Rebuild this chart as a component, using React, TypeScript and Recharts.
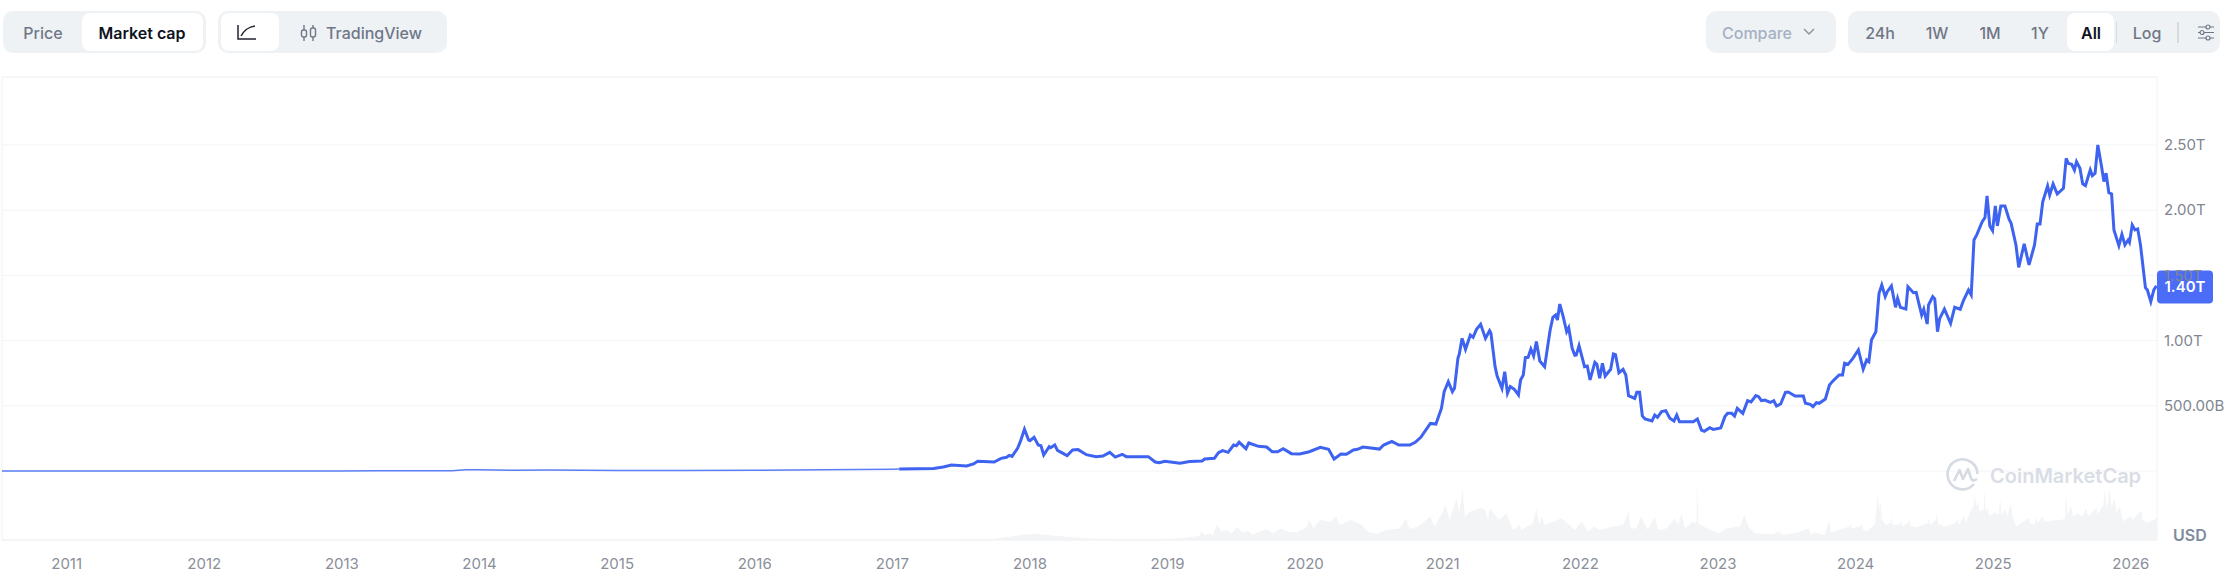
import { Area, CartesianGrid, ComposedChart, Line, ReferenceArea, ReferenceDot, XAxis, YAxis } from 'recharts';

// [decimal year, market cap in billions USD]
const marketCap: [number, number][] = [
    [2010.53, 0.1], [2011, 0.2], [2012, 0.3], [2013, 0.5], [2013.25, 1.5], [2013.8, 2.5], [2013.9, 10], [2014, 9], [2014.25, 6], [2014.5, 8], [2015, 4], [2015.5, 3.5], [2016, 6], [2016.5, 10], [2017, 14],
    [2017.05, 15], [2017.18, 18], [2017.3, 20], [2017.37, 31], [2017.43, 46], [2017.54, 38], [2017.59, 54], [2017.62, 74], [2017.74, 69], [2017.79, 97], [2017.83, 105], [2017.85, 120], [2017.87, 112],
    [2017.91, 174], [2017.93, 225], [2017.96, 320], [2017.99, 238], [2018, 232], [2018.03, 258], [2018.06, 200], [2018.08, 194], [2018.1, 123], [2018.14, 187], [2018.15, 179], [2018.18, 200], [2018.2, 158],
    [2018.27, 118], [2018.31, 161], [2018.35, 164], [2018.41, 125], [2018.48, 110], [2018.53, 115], [2018.58, 143], [2018.62, 107], [2018.67, 128], [2018.7, 110], [2018.86, 110], [2018.91, 69], [2018.94, 64],
    [2018.98, 74], [2019.09, 59], [2019.16, 72], [2019.25, 77], [2019.27, 92], [2019.34, 97], [2019.37, 141], [2019.4, 156], [2019.44, 143], [2019.48, 199], [2019.5, 194], [2019.52, 220], [2019.57, 171],
    [2019.59, 215], [2019.66, 189], [2019.72, 184], [2019.76, 148], [2019.8, 148], [2019.84, 171], [2019.9, 133], [2019.96, 130], [2020.03, 148], [2020.11, 181], [2020.17, 166], [2020.21, 92], [2020.26, 130],
    [2020.3, 128], [2020.35, 161], [2020.38, 166], [2020.42, 184], [2020.54, 168], [2020.57, 199], [2020.63, 227], [2020.68, 199], [2020.76, 199], [2020.8, 220], [2020.84, 258], [2020.91, 365], [2020.95, 360],
    [2020.99, 480], [2021.01, 608], [2021.04, 685], [2021.07, 608], [2021.085, 634], [2021.11, 864], [2021.12, 897], [2021.14, 1017], [2021.165, 933], [2021.2, 1043], [2021.22, 1025], [2021.245, 1086],
    [2021.275, 1125], [2021.31, 1017], [2021.34, 1076], [2021.35, 1056], [2021.38, 800], [2021.395, 728], [2021.43, 634], [2021.45, 762], [2021.47, 596], [2021.49, 647], [2021.52, 626], [2021.55, 583],
    [2021.565, 698], [2021.585, 736], [2021.6, 869], [2021.62, 872], [2021.64, 935], [2021.66, 882], [2021.68, 992], [2021.705, 843], [2021.74, 800], [2021.78, 1081], [2021.8, 1178], [2021.82, 1196],
    [2021.833, 1158], [2021.85, 1280], [2021.875, 1183], [2021.9, 1068], [2021.915, 1099], [2021.94, 941], [2021.96, 887], [2021.97, 889], [2021.99, 961], [2022.03, 800], [2022.05, 805], [2022.07, 698],
    [2022.105, 833], [2022.12, 818], [2022.14, 711], [2022.16, 826], [2022.18, 728], [2022.22, 780], [2022.24, 897], [2022.255, 892], [2022.28, 754], [2022.31, 780], [2022.33, 736], [2022.35, 578],
    [2022.395, 557], [2022.41, 603], [2022.43, 603], [2022.45, 422], [2022.47, 399], [2022.52, 383], [2022.54, 429], [2022.56, 412], [2022.59, 455], [2022.62, 463], [2022.65, 404], [2022.68, 383],
    [2022.7, 429], [2022.72, 378], [2022.82, 378], [2022.85, 399], [2022.88, 314], [2022.9, 304], [2022.94, 332], [2022.965, 319], [2023.02, 330], [2023.05, 417], [2023.07, 442], [2023.1, 442], [2023.12, 422],
    [2023.14, 480], [2023.18, 442], [2023.215, 539], [2023.24, 529], [2023.275, 578], [2023.295, 570], [2023.315, 539], [2023.34, 544], [2023.38, 527], [2023.405, 539], [2023.425, 498], [2023.455, 514],
    [2023.49, 603], [2023.51, 606], [2023.56, 575], [2023.62, 575], [2023.635, 519], [2023.67, 511], [2023.69, 493], [2023.715, 524], [2023.735, 519], [2023.78, 552], [2023.81, 659], [2023.83, 685],
    [2023.88, 736], [2023.905, 736], [2023.92, 826], [2023.945, 818], [2023.98, 864], [2024.02, 928], [2024.055, 780], [2024.08, 851], [2024.096, 838], [2024.115, 1004], [2024.147, 1068], [2024.17, 1362],
    [2024.19, 1426], [2024.215, 1337], [2024.23, 1375], [2024.26, 1419], [2024.29, 1255], [2024.305, 1324], [2024.325, 1255], [2024.365, 1242], [2024.38, 1413], [2024.42, 1367], [2024.44, 1370], [2024.48, 1196],
    [2024.495, 1240], [2024.52, 1127], [2024.53, 1273], [2024.56, 1337], [2024.575, 1319], [2024.595, 1068], [2024.61, 1166], [2024.645, 1242], [2024.69, 1132], [2024.72, 1255], [2024.76, 1240], [2024.785, 1311],
    [2024.82, 1388], [2024.84, 1350], [2024.86, 1771], [2024.88, 1810], [2024.92, 1912], [2024.94, 1943], [2024.955, 2109], [2024.975, 1879], [2024.995, 1843], [2025.015, 2032], [2025.03, 1879], [2025.055, 2032],
    [2025.085, 2032], [2025.115, 1930], [2025.13, 1899], [2025.165, 1733], [2025.185, 1562], [2025.225, 1741], [2025.26, 1580], [2025.3, 1733], [2025.32, 1894], [2025.34, 1894], [2025.36, 2065], [2025.395, 2185],
    [2025.41, 2116], [2025.435, 2201], [2025.465, 2124], [2025.51, 2167], [2025.53, 2397], [2025.545, 2359], [2025.57, 2352], [2025.59, 2308], [2025.605, 2372], [2025.63, 2321], [2025.65, 2201], [2025.67, 2188],
    [2025.705, 2308], [2025.72, 2265], [2025.74, 2283], [2025.76, 2500], [2025.787, 2334], [2025.804, 2219], [2025.82, 2283], [2025.84, 2134], [2025.86, 2124], [2025.877, 1848], [2025.913, 1728], [2025.935, 1815],
    [2025.957, 1733], [2025.98, 1771], [2025.99, 1753], [2026.01, 1886], [2026.03, 1848], [2026.05, 1856], [2026.07, 1733], [2026.106, 1406], [2026.12, 1388], [2026.145, 1298], [2026.167, 1388], [2026.186, 1419]
];

// [decimal year, traded volume in billions USD]
const volume: [number, number][] = [
    [2010.53, 0], [2017, 0.5], [2017.7, 3], [2017.85, 14], [2017.95, 24], [2018.05, 26], [2018.2, 17], [2018.4, 8], [2018.7, 4],
    [2018.94, 4], [2019.11, 9], [2019.23, 17], [2019.245, 39], [2019.27, 20], [2019.31, 29], [2019.325, 19], [2019.36, 65], [2019.39, 36], [2019.43, 43], [2019.464, 29], [2019.505, 55], [2019.55, 32], [2019.585, 40],
    [2019.617, 22], [2019.66, 35], [2019.72, 46], [2019.767, 29], [2019.82, 50], [2019.876, 36], [2019.936, 32], [2020.01, 55], [2020.03, 86], [2020.06, 50], [2020.106, 86], [2020.18, 79], [2020.227, 101], [2020.25, 65],
    [2020.336, 86], [2020.41, 65], [2020.457, 36], [2020.52, 26], [2020.59, 43], [2020.687, 50], [2020.73, 94], [2020.76, 46], [2020.82, 58], [2020.88, 86], [2020.91, 101], [2020.94, 58], [2021, 122], [2021.02, 151],
    [2021.05, 86], [2021.1, 180], [2021.12, 115], [2021.143, 223], [2021.16, 101], [2021.196, 122], [2021.27, 137], [2021.305, 132], [2021.33, 86], [2021.34, 137], [2021.378, 108], [2021.41, 86], [2021.46, 115],
    [2021.51, 43], [2021.56, 65], [2021.57, 43], [2021.656, 72], [2021.68, 137], [2021.7, 65], [2021.717, 101], [2021.74, 65], [2021.8, 79], [2021.86, 94], [2021.92, 65], [2021.96, 43], [2022.01, 79], [2022.056, 36],
    [2022.1, 58], [2022.14, 43], [2022.24, 58], [2022.31, 65], [2022.35, 122], [2022.365, 50], [2022.407, 50], [2022.44, 101], [2022.49, 43], [2022.54, 101], [2022.565, 43], [2022.625, 50], [2022.686, 94], [2022.71, 65],
    [2022.735, 115], [2022.76, 50], [2022.814, 79], [2022.843, 72], [2022.848, 242], [2022.858, 72], [2022.94, 43], [2023.01, 29], [2023.06, 50], [2023.158, 58], [2023.19, 108], [2023.22, 58], [2023.267, 29], [2023.4, 26],
    [2023.437, 36], [2023.47, 22], [2023.58, 32], [2023.655, 50], [2023.68, 22], [2023.7, 32], [2023.776, 22], [2023.807, 86], [2023.82, 32], [2023.86, 40],
    [2023.955, 58], [2023.96, 75], [2023.97, 50], [2024.04, 60], [2024.045, 75], [2024.055, 45], [2024.076, 36], [2024.125, 60], [2024.14, 70], [2024.15, 120], [2024.16, 202], [2024.17, 130], [2024.18, 165], [2024.19, 90],
    [2024.22, 65], [2024.255, 75], [2024.26, 100], [2024.27, 65], [2024.32, 68], [2024.33, 85], [2024.34, 60], [2024.38, 72], [2024.39, 92], [2024.4, 62], [2024.44, 55], [2024.525, 72], [2024.53, 95], [2024.54, 65],
    [2024.585, 88], [2024.59, 115], [2024.6, 70], [2024.645, 58], [2024.72, 70], [2024.74, 85], [2024.75, 65], [2024.79, 105], [2024.8, 75], [2024.84, 130], [2024.86, 150], [2024.865, 209], [2024.875, 140], [2024.89, 170],
    [2024.9, 125], [2024.93, 130], [2024.935, 216], [2024.945, 120], [2024.96, 137], [2024.97, 105], [2025.01, 118], [2025.04, 110], [2025.05, 180], [2025.06, 105], [2025.09, 135], [2025.1, 100], [2025.13, 160], [2025.14, 100],
    [2025.167, 58], [2025.26, 95], [2025.27, 70], [2025.3, 65], [2025.31, 100], [2025.32, 70], [2025.36, 105], [2025.37, 80], [2025.457, 85], [2025.52, 90], [2025.53, 194], [2025.54, 110], [2025.566, 144], [2025.58, 100],
    [2025.615, 115], [2025.65, 100], [2025.675, 137], [2025.69, 100], [2025.75, 140], [2025.76, 110], [2025.8, 150], [2025.81, 216], [2025.825, 130], [2025.845, 223], [2025.86, 140], [2025.88, 180], [2025.895, 120], [2025.92, 144],
    [2025.935, 100], [2025.95, 80], [2026, 105], [2026.01, 85], [2026.075, 128], [2026.085, 85], [2026.12, 75], [2026.19, 94]
];

const yearTicks = [2011, 2012, 2013, 2014, 2015, 2016, 2017, 2018, 2019, 2020, 2021, 2022, 2023, 2024, 2025, 2026];
const capTicks = [0, 500, 1000, 1500, 2000, 2500];
const latestCap = 1400;
const THIN_UNTIL = 2017.05; // the flat early years are drawn thinner in the original

const leftTabs = ['Price', 'Market cap'];
const rangeTabs = [['24h', 1880], ['1W', 1937], ['1M', 1990], ['1Y', 2040]] as const;

const rows = [
    ...marketCap.map(([year, cap]) => ({
        year,
        early: year <= THIN_UNTIL ? cap : undefined,
        cap: year >= THIN_UNTIL ? cap : undefined
    })),
    ...volume.map(([year, vol]) => ({ year, vol }))
].sort((a, b) => a.year - b.year);

const X_DOMAIN = [2010.53, 2026.19];
const CAP_DOMAIN = [-529, 3021];

const formatCap = (v: number) => {
    if (v === 0) return '';
    return v >= 1000 ? `${(v / 1000).toFixed(2)}T` : `${v.toFixed(2)}B`;
};

const font = 'Inter, sans-serif';

const Label = ({ x, y, w, h = 20, color = '#6f7787', weight = 500, size = 16, children }: any) => (
    <div style={{ position: 'absolute', left: x - w / 2, top: y - h / 2, width: w, height: h, lineHeight: `${h}px`, textAlign: 'center', fontFamily: font, fontSize: size, fontWeight: weight, color }}>
        {children}
    </div>
);

const Box = ({ x, y, w, h, bg, r = 8, shadow }: any) => (
    <div style={{ position: 'absolute', left: x, top: y, width: w, height: h, background: bg, borderRadius: r, boxShadow: shadow }} />
);

const Toolbar = () => (
    <>
        <Box x={3} y={11} w={203} h={42} bg="#eff2f5" r={10} />
        <Box x={82} y={13} w={121} h={38} bg="#fff" r={8} />
        <Label x={43} y={33} w={60}>{leftTabs[0]}</Label>
        <Label x={142} y={33} w={110} weight={600} color="#0d1421">{leftTabs[1]}</Label>

        <Box x={218} y={11} w={229} h={42} bg="#eff2f5" r={10} />
        <Box x={221} y={13} w={58} h={38} bg="#fff" r={8} />
        <svg style={{ position: 'absolute', left: 236, top: 23 }} width={22} height={20} fill="none" stroke="#222531" strokeWidth={1.5}>
            <path d="M2 2 V16 H20 M5 13 C9 6 13 4 19 3" />
        </svg>
        <svg style={{ position: 'absolute', left: 300, top: 24 }} width={18} height={18} fill="none" stroke="#6f7787" strokeWidth={1.4}>
            <path d="M4 1 V17 M13 1 V17" />
            <rect x={1.5} y={6} width={5} height={7} rx={2} fill="#eff2f5" />
            <rect x={10.5} y={4} width={5} height={9} rx={2} fill="#eff2f5" />
        </svg>
        <Label x={374} y={33} w={110}>TradingView</Label>

        <Box x={1706} y={11} w={130} h={42} bg="#eff2f5" r={10} />
        <Label x={1757} y={33} w={80} color="#a6b0c3">Compare</Label>
        <svg style={{ position: 'absolute', left: 1802, top: 27 }} width={14} height={10} fill="none" stroke="#8b94a5" strokeWidth={1.5}>
            <path d="M2 2 L7 7 L12 2" />
        </svg>

        <Box x={1848} y={11} w={372} h={42} bg="#eff2f5" r={10} />
        {rangeTabs.map(([text, x]) => <Label key={text} x={x} y={33} w={44}>{text}</Label>)}
        <Box x={2067} y={13} w={47} h={38} bg="#fff" r={8} />
        <Label x={2091} y={33} w={40} weight={600} color="#0d1421">All</Label>
        <Box x={2116} y={22} w={1} h={21} bg="#d5dae2" r={0} />
        <Label x={2147} y={33} w={40}>Log</Label>
        <Box x={2177} y={22} w={2} h={21} bg="#d5dae2" r={0} />
        <svg style={{ position: 'absolute', left: 2197, top: 23 }} width={18} height={18} fill="#eff2f5" stroke="#6f7787" strokeWidth={1.2}>
            <path d="M1 4 H17 M1 9.5 H17 M1 15 H17" />
            <circle cx={11} cy={4} r={2} />
            <circle cx={5} cy={9.5} r={2} />
            <circle cx={11} cy={15} r={2} />
        </svg>
    </>
);

const Watermark = () => (
    <>
        <svg style={{ position: 'absolute', left: 1946, top: 458 }} width={34} height={34} fill="none" stroke="#d5dae3" strokeWidth={2.6}>
            <path d="M28 26 A15 15 0 1 1 31.5 16" />
            <path d="M8 23 L13.5 12 L17 21 L22 11 L25 20 C26 23 28 23 31 21" strokeLinejoin="round" />
        </svg>
        <div style={{ position: 'absolute', left: 1990, top: 462, height: 28, lineHeight: '28px', fontFamily: font, fontSize: 20, fontWeight: 600, color: '#d9dde5', whiteSpace: 'nowrap' }}>
            CoinMarketCap
        </div>
    </>
);

const PriceBadge = ({ cx, cy }: any) => (
    <g>
        <rect x={cx} y={cy - 18} width={56} height={33} rx={4} fill="#4a6cf7" />
        <text x={cx + 28} y={cy + 4} textAnchor="middle" fill="#fff" fontFamily={font} fontSize={15} fontWeight={600}>
            {formatCap(latestCap)}
        </text>
    </g>
);

export default function App() {
    return (
        <div style={{ position: 'absolute', left: 0, top: 0, width: 2228, height: 575, background: '#fff', overflow: 'hidden' }}>
            <ComposedChart width={2228} height={575} data={rows} margin={{ top: 77, right: 0, bottom: 0, left: 2 }}>
                <CartesianGrid vertical={false} stroke="#f3f4f6" yAxisId="cap" />
                <XAxis
                    dataKey="year"
                    type="number"
                    domain={X_DOMAIN}
                    ticks={yearTicks}
                    interval={0}
                    height={35}
                    tickLine={false}
                    axisLine={false}
                    tickMargin={12}
                    tick={{ fontSize: 15, fill: '#8a8f99', fontFamily: font }}
                />
                <YAxis
                    yAxisId="cap"
                    orientation="right"
                    type="number"
                    domain={CAP_DOMAIN}
                    ticks={capTicks}
                    interval={0}
                    width={71}
                    tickLine={false}
                    axisLine={false}
                    tickMargin={1}
                    tickFormatter={formatCap}
                    tick={{ fontSize: 15, fill: '#808691', fontFamily: font }}
                />
                <YAxis yAxisId="vol" hide type="number" domain={[0, 2000]} />
                <ReferenceArea yAxisId="cap" x1={X_DOMAIN[0]} x2={X_DOMAIN[1]} y1={CAP_DOMAIN[0]} y2={CAP_DOMAIN[1]} fill="none" stroke="#f1f2f4" />
                <Area yAxisId="vol" dataKey="vol" type="linear" stroke="none" fill="#f2f4f6" fillOpacity={1} connectNulls dot={false} isAnimationActive={false} />
                <Line yAxisId="cap" dataKey="early" type="linear" stroke="#5b7df5" strokeWidth={1.5} connectNulls dot={false} isAnimationActive={false} />
                <Line yAxisId="cap" dataKey="cap" type="linear" stroke="#3d63f0" strokeWidth={3} connectNulls dot={false} isAnimationActive={false} />
                <ReferenceDot yAxisId="cap" x={X_DOMAIN[1]} y={latestCap} ifOverflow="visible" shape={PriceBadge} />
            </ComposedChart>
            <Toolbar />
            <Watermark />
            <div style={{ position: 'absolute', left: 2173, top: 525, fontFamily: font, fontSize: 16, fontWeight: 600, color: '#808a9d' }}>USD</div>
        </div>
    );
}
